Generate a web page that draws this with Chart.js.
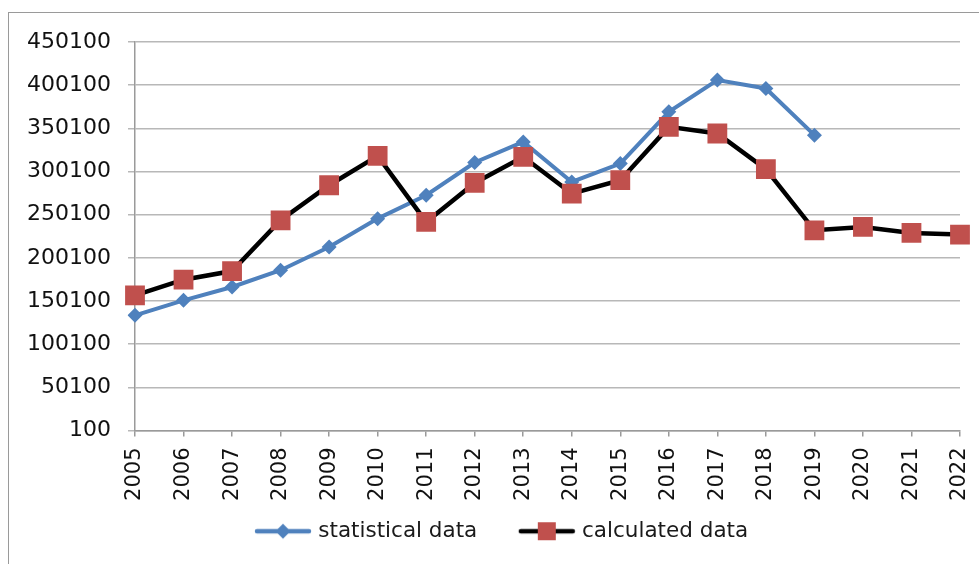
<!DOCTYPE html>
<html>
<head>
<meta charset="utf-8">
<script src="https://cdn.jsdelivr.net/npm/chart.js@4"></script>
<style>
  html, body { margin: 0; padding: 0; background: #fff; overflow: hidden; }
  #frame { position: absolute; left: 8px; top: 12px; width: 1000px; height: 600px;
           border-left: 1.5px solid #9a9a9a; border-top: 1.5px solid #9a9a9a; }
  #wrap { position: absolute; left: 0; top: 0; width: 979px; height: 564px; }
</style>
</head>
<body>
<div id="frame"></div>
<div id="wrap"><canvas id="c" width="979" height="564"></canvas></div>
<script>
const years = ['2005','2006','2007','2008','2009','2010','2011','2012','2013','2014','2015','2016','2017','2018','2019','2020','2021','2022'];
const statisticalData = [133500, 150900, 166300, 185700, 212600, 245500, 272600, 310500, 334400, 288000, 309300, 369200, 406000, 396300, 342200];
const calculatedData = [156600, 174800, 184800, 243600, 284200, 318200, 241700, 286900, 317100, 274500, 290000, 351800, 344100, 302800, 232000, 235900, 228900, 227000];
const yTicks = [100, 50100, 100100, 150100, 200100, 250100, 300100, 350100, 400100, 450100];
const seriesNames = ['statistical data', 'calculated data'];

const BLUE = '#4F81BD';
const RED = '#C0504D';
const FONT = 'DejaVu Sans';

function legendIcon(lineColor, markerColor, shape) {
  const cv = document.createElement('canvas');
  cv.width = 93; cv.height = 22;
  const g = cv.getContext('2d');
  g.strokeStyle = lineColor; g.lineWidth = 4.5; g.lineCap = 'round';
  g.beginPath(); g.moveTo(38, 11); g.lineTo(90, 11); g.stroke();
  g.fillStyle = markerColor;
  const cx = 64;
  if (shape === 'diamond') {
    g.beginPath(); g.moveTo(cx, 3.5); g.lineTo(cx + 7.5, 11); g.lineTo(cx, 18.5); g.lineTo(cx - 7.5, 11); g.closePath(); g.fill();
  } else {
    g.fillRect(cx - 9, 2, 18, 18);
  }
  return cv;
}
const icons = [legendIcon(BLUE, BLUE, 'diamond'), legendIcon('#000', RED, 'square')];

const legendPlace = {
  id: 'legendPlace',
  afterLayout(chart) {
    const lg = chart.legend;
    if (!lg) return;
    const w = lg.right - lg.left;
    lg.left = 213.5;
    lg.right = lg.left + w;
  }
};

new Chart(document.getElementById('c'), {
  type: 'line',
  data: {
    labels: years,
    datasets: [
      {
        label: seriesNames[0],
        data: statisticalData,
        borderColor: BLUE,
        backgroundColor: BLUE,
        borderWidth: 4,
        pointStyle: 'rectRot',
        pointRadius: 7.5,
        pointBorderWidth: 0,
        pointBackgroundColor: BLUE,
        tension: 0,
        order: 2
      },
      {
        label: seriesNames[1],
        data: calculatedData,
        borderColor: '#000',
        backgroundColor: RED,
        borderWidth: 4.5,
        pointStyle: 'rect',
        pointRadius: 14,
        pointBorderWidth: 0,
        pointBackgroundColor: RED,
        tension: 0,
        order: 1
      }
    ]
  },
  plugins: [legendPlace],
  options: {
    responsive: false,
    animation: false,
    events: [],
    layout: { padding: { left: 10, right: 19, top: 42, bottom: 12 } },
    plugins: {
      tooltip: { enabled: false },
      legend: {
        position: 'bottom',
        align: 'start',
        labels: {
          usePointStyle: true,
          pointStyleWidth: 84,
          padding: 10,
          color: '#1a1a1a',
          font: { family: FONT, size: 21.5 },
          sort: (a, b) => a.datasetIndex - b.datasetIndex,
          generateLabels: (chart) => {
            const items = Chart.defaults.plugins.legend.labels.generateLabels(chart);
            items.forEach(it => { it.pointStyle = icons[it.datasetIndex]; });
            return items;
          }
        }
      }
    },
    scales: {
      x: {
        offset: false,
        grid: { display: true, drawOnChartArea: false, drawTicks: true, tickLength: 6, color: '#9a9a9a', lineWidth: 1.5 },
        border: { display: true, color: '#9a9a9a', width: 1.5 },
        ticks: { autoSkip: false, minRotation: 90, maxRotation: 90, padding: 11, color: '#111', font: { family: FONT, size: 21 } },
        afterFit: (s) => { s.height = 80; s.paddingLeft = 0; s.paddingRight = 0; }
      },
      y: {
        min: 100,
        max: 450100,
        grid: { color: '#b8b8b8', lineWidth: 1.5, tickLength: 7, tickColor: '#b8b8b8' },
        border: { display: true, color: '#9a9a9a', width: 1.5 },
        afterBuildTicks: (s) => { s.ticks = yTicks.map(v => ({ value: v })); },
        ticks: { padding: 17, color: '#111', font: { family: FONT, size: 22 }, callback: (v) => String(v) },
        afterFit: (s) => { s.width = 125; s.paddingTop = 0; s.paddingBottom = 0; }
      }
    }
  }
});
</script>
</body>
</html>
